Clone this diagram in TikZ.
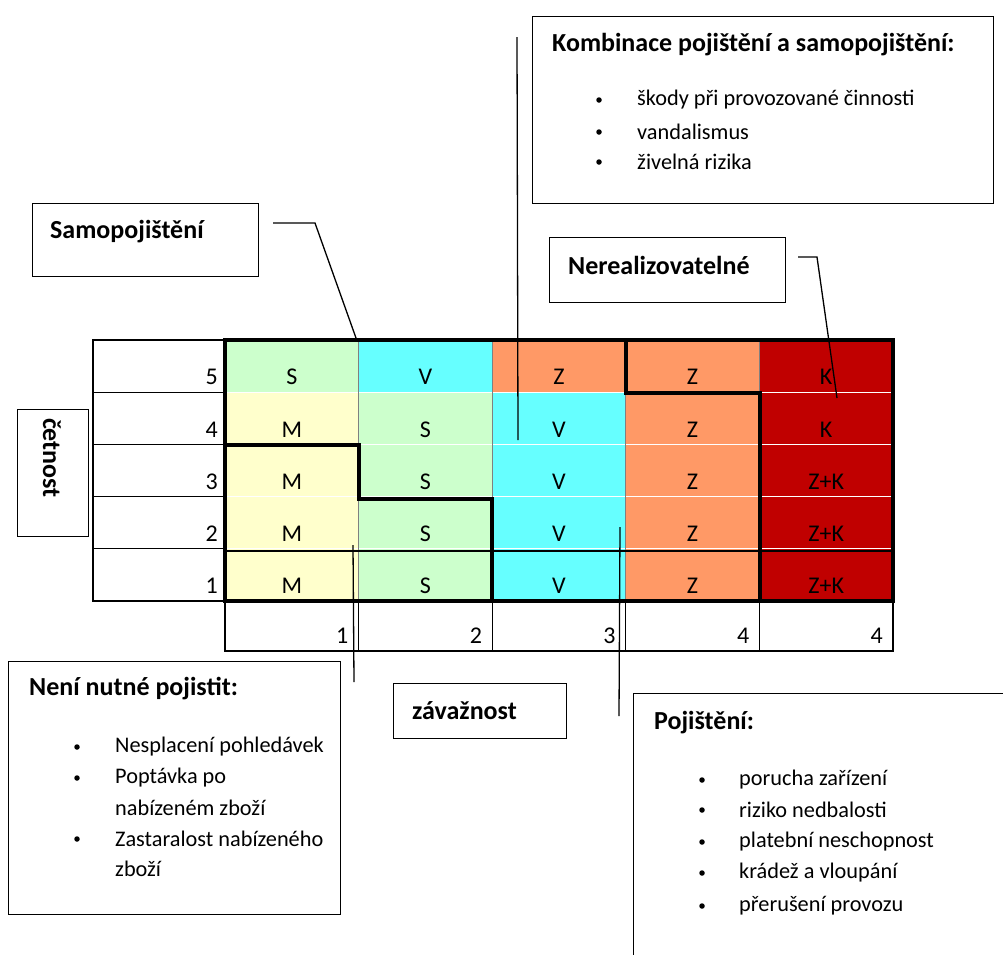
\documentclass[tikz,border=0pt]{standalone}
\usepackage{fontspec}
\setmainfont{Carlito}
\usetikzlibrary{positioning}

\definecolor{sgreen}{HTML}{CCFFCC}
\definecolor{vcyan}{HTML}{66FFFF}
\definecolor{zorange}{HTML}{FF9966}
\definecolor{kred}{HTML}{C00000}
\definecolor{myellow}{HTML}{FFFFCC}

\tikzset{
  infobox/.style={draw, line width=1.3pt, anchor=north west, inner sep=0pt},
  boxtitle/.style={font=\fontsize{26}{30}\selectfont\bfseries, anchor=west, inner sep=0pt},
  boxitem/.style={font=\fontsize{22.3}{26}\selectfont, anchor=west, inner sep=0pt},
  bulletdot/.style={circle, fill, inner sep=0pt, minimum size=5.5pt},
  celltext/.style={font=\fontsize{24}{28}\selectfont, inner sep=0pt},
  gridline/.style={line width=1.2pt},
  heavyline/.style={line width=4pt},
  link/.style={line width=1.3pt}
}

\begin{document}
\begin{tikzpicture}[x=1pt,y=-1pt]
\useasboundingbox (0,0) rectangle (1003,954);

% coloured cells
\foreach \c/\r/\t/\f in {1/5/S/sgreen, 2/5/V/vcyan, 3/5/Z/zorange, 4/5/Z/zorange, 5/5/K/kred,
  1/4/M/myellow, 2/4/S/sgreen, 3/4/V/vcyan, 4/4/Z/zorange, 5/4/K/kred,
  1/3/M/myellow, 2/3/S/sgreen, 3/3/V/vcyan, 4/3/Z/zorange, 5/3/Z+K/kred,
  1/2/M/myellow, 2/2/S/sgreen, 3/2/V/vcyan, 4/2/Z/zorange, 5/2/Z+K/kred,
  1/1/M/myellow, 2/1/S/sgreen, 3/1/V/vcyan, 4/1/Z/zorange, 5/1/Z+K/kred}
{
  \filldraw[fill=\f, draw=white, line width=1pt] ({225+(\c-1)*133.6},{340+(5-\r)*52.2}) rectangle ++(133.6,52.2);
  \node[celltext] (cell-\c-\r) at ({225+(\c-0.5)*133.6},{340+(6-\r)*52.2-15}) {\t};
}
\foreach \c in {2,...,5}
  \draw[gray, line width=0.8pt] ({225+(\c-1)*133.6},340) -- ({225+(\c-1)*133.6},601);
\draw[gridline] (225,551) -- (893,551);

% cetnost column
\foreach \r in {1,...,5}
{
  \draw[gridline] (93,{340+(5-\r)*52.2}) rectangle (225,{340+(6-\r)*52.2});
  \node[celltext, anchor=east] (freq-\r) at (218,{340+(6-\r)*52.2-15}) {\r};
}

% zavaznost row
\foreach \c/\v in {1/1, 2/2, 3/3, 4/4, 5/4}
{
  \draw[gridline] ({225+(\c-1)*133.6},601) rectangle ({225+\c*133.6},651);
  \node[celltext, anchor=east] (sev-\c) at ({225+\c*133.6-10},636) {\v};
}

% heavy borders
\draw[heavyline] (225,340) rectangle (893,601);
\draw[heavyline] (225,445) -- (359,445) -- (359,499) -- (492,499) -- (492,601);
\draw[heavyline] (626,340) -- (626,393) -- (760,393) -- (760,601);

% axis labels
\node[infobox, minimum width=71pt, minimum height=127pt] (cetbox) at (17,409) {};
\node[boxtitle, anchor=center, rotate=-90] (cettext) at (52,458) {četnost};
\node[infobox, minimum width=173pt, minimum height=55pt] (zavbox) at (393,683) {};
\node[boxtitle] (zavtext) at (412,711) {závažnost};

% Samopojisteni
\node[infobox, minimum width=226pt, minimum height=73pt] (samobox) at (32,203) {};
\node[boxtitle] (samotitle) at (50,232) {Samopojištění};

% Kombinace
\node[infobox, minimum width=461pt, minimum height=187pt] (kombbox) at (532,16) {};
\node[boxtitle] (kombtitle) at (552,45) {Kombinace pojištění a samopojištění:};
\foreach \y/\t [count=\i] in {100/škody při provozované činnosti, 132/vandalismus, 162/živelná rizika}
{
  \node[bulletdot] (kombdot-\i) at (599,\y) {};
  \node[boxitem] (kombitem-\i) at (637,\y) {\t};
}

% Nerealizovatelne
\node[infobox, minimum width=236pt, minimum height=65pt] (nerbox) at (549,237) {};
\node[boxtitle] (nertitle) at (568,265) {Nerealizovatelné};

% Neni nutne pojistit
\node[infobox, minimum width=332pt, minimum height=253pt] (nenibox) at (8,661) {};
\node[boxtitle] (nenititle) at (29,689) {Není nutné pojistit:};
\foreach \y [count=\i] in {747,778,839}
  \node[bulletdot] (nenidot-\i) at (77,\y) {};
\node[boxitem] (neniitem-1) at (115,747) {Nesplacení pohledávek};
\node[boxitem] (neniitem-2) at (115,778) {Poptávka po};
\node[boxitem] (neniitem-3) at (115,808) {nabízeném zboží};
\node[boxitem] (neniitem-4) at (115,839) {Zastaralost nabízeného};
\node[boxitem] (neniitem-5) at (115,869) {zboží};

% Pojisteni
\node[infobox, minimum width=400pt, minimum height=280pt] (pojbox) at (633,693) {};
\node[boxtitle] (pojtitle) at (654,723) {Pojištění:};
\foreach \y/\t [count=\i] in {780/porucha zařízení, 810/riziko nedbalosti, 842/platební neschopnost, 873/krádež a vloupání, 906/přerušení provozu}
{
  \node[bulletdot] (pojdot-\i) at (702,\y) {};
  \node[boxitem] (pojitem-\i) at (739,\y) {\t};
}

% connectors
\coordinate (samo-a) at (273,223);
\coordinate (samo-b) at (315,223);
\coordinate (samo-c) at (356,338);
\coordinate (komb-a) at (517,37);
\coordinate (komb-b) at (518,440);
\coordinate (ner-a) at (798,257);
\coordinate (ner-b) at (817,257);
\coordinate (ner-c) at (837,398);
\coordinate (neni-a) at (354,682);
\coordinate (neni-b) at (353,545);
\coordinate (poj-a) at (619,716);
\coordinate (poj-b) at (620,527);

\draw[link] (samo-a) -- (samo-b) -- (samo-c);
\draw[link] (komb-a) -- (komb-b);
\draw[link] (ner-a) -- (ner-b) -- (ner-c);
\draw[link] (neni-a) -- (neni-b);
\draw[link] (poj-a) -- (poj-b);

\end{tikzpicture}
\end{document}
